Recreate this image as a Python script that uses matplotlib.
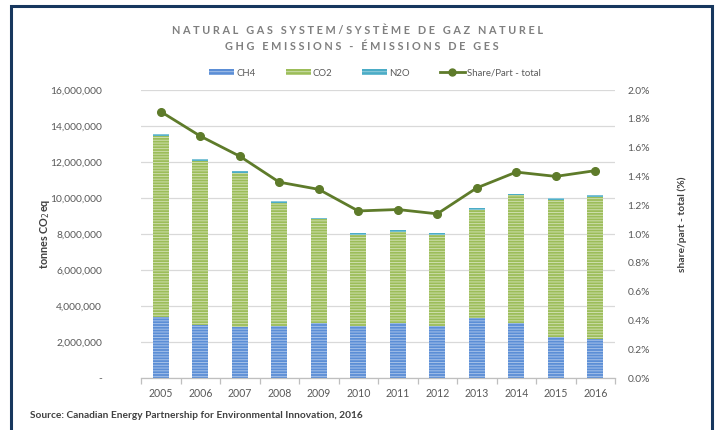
import matplotlib
matplotlib.use("Agg")
import matplotlib.pyplot as plt
from matplotlib.patches import Rectangle
from matplotlib.lines import Line2D
from matplotlib.ticker import FixedLocator, FuncFormatter
import numpy as np

plt.rcParams['font.family'] = ['Lato', 'DejaVu Sans']
plt.rcParams['hatch.linewidth'] = 0.7

years = ['2005', '2006', '2007', '2008', '2009', '2010', '2011', '2012', '2013', '2014', '2015', '2016']
ch4 = [3400000, 2940000, 2820000, 2890000, 3040000, 2890000, 3070000, 2900000, 3350000, 3070000, 2280000, 2150000]
totals = [13560000, 12140000, 11480000, 9830000, 8900000, 8050000, 8200000, 8050000, 9440000, 10240000, 10000000, 10150000]
n2o = [130000, 110000, 110000, 100000, 90000, 80000, 80000, 80000, 90000, 100000, 90000, 100000]
co2 = [t - c - n for t, c, n in zip(totals, ch4, n2o)]
share = [1.85, 1.68, 1.54, 1.36, 1.31, 1.16, 1.17, 1.14, 1.32, 1.43, 1.40, 1.44]

c_ch4 = '#5B8ED6'
c_co2 = '#9CBD59'
c_n2o = '#4BACC6'
c_line = '#5E7B2A'
txt = '#595959'

fig = plt.figure(figsize=(7.15, 4.3), dpi=100)
ax = fig.add_axes([141/715, 1-378/430, (615-141)/715, (378-90)/430])

x = np.arange(len(years))
w = 0.41
hatch = '------'
ax.bar(x, ch4, w, color=c_ch4, edgecolor=(1, 1, 1, 0.45), linewidth=0, hatch=hatch, zorder=2)
ax.bar(x, co2, w, bottom=ch4, color=c_co2, edgecolor=(1, 1, 1, 0.5), linewidth=0, hatch=hatch, zorder=2)
bot2 = [a + b for a, b in zip(ch4, co2)]
ax.bar(x, n2o, w, bottom=bot2, color=c_n2o, edgecolor=(1, 1, 1, 0.4), linewidth=0, hatch=hatch, zorder=2)

ax.set_xlim(-0.5, len(years) - 0.5)
ax.set_ylim(0, 16000000)
ax.yaxis.set_major_locator(FixedLocator(np.arange(0, 16000001, 2000000)))
ax.yaxis.set_major_formatter(FuncFormatter(lambda v, p: '-' if v == 0 else f'{int(v):,}'))
ax.grid(axis='y', color='#D9D9D9', linewidth=0.9, zorder=0)
ax.set_axisbelow(True)
for s in ['left', 'right', 'top']:
    ax.spines[s].set_visible(False)
ax.spines['bottom'].set_color('#BFBFBF')
ax.spines['bottom'].set_linewidth(0.9)
ax.tick_params(axis='y', length=0, labelsize=7.4, labelcolor=txt, pad=28)
ax.set_xticks(x)
ax.set_xticklabels(years)
ax.tick_params(axis='x', length=0, labelsize=7.6, labelcolor=txt, pad=7)
ax.set_xticks(np.arange(-0.5, len(years), 1), minor=True)
ax.tick_params(axis='x', which='minor', length=4, color='#BFBFBF', width=0.9)

ax2 = ax.twinx()
ax2.plot(x, share, color=c_line, linewidth=2.0, marker='o', markersize=5.5, zorder=5)
ax2.set_ylim(0, 2.0)
ax2.yaxis.set_major_locator(FixedLocator(np.arange(0, 2.01, 0.2)))
ax2.yaxis.set_major_formatter(FuncFormatter(lambda v, p: f'{v:.1f}%'))
for s in ['left', 'right', 'top', 'bottom']:
    ax2.spines[s].set_visible(False)
ax2.tick_params(axis='y', length=0, labelsize=7.4, labelcolor=txt, pad=9)

fig.text(45/715, 1-234/430, 'tonnes CO$_2$eq', rotation=90, ha='center', va='center',
         fontsize=7.8, fontweight='bold', color='#404040')
fig.text(682/715, 1-224/430, 'share/part - total (%)', rotation=90, ha='center', va='center',
         fontsize=7.4, fontweight='bold', color='#404040')

fig.text(358/715, 1-30/430, 'N A T U R A L   G A S   S Y S T E M / S Y S T È M E   D E   G A Z   N A T U R E L',
         ha='center', va='center', fontsize=7.8, fontweight='bold', color='#7F7F7F')
fig.text(362/715, 1-47/430, 'G H G   E M I S S I O N S   -   É M I S S I O N S   D E   G E S',
         ha='center', va='center', fontsize=7.8, fontweight='bold', color='#7F7F7F')

handles = [Rectangle((0, 0), 1, 1, facecolor=c_ch4, edgecolor=(1, 1, 1, 0.45), hatch='-----', linewidth=0),
           Rectangle((0, 0), 1, 1, facecolor=c_co2, edgecolor=(1, 1, 1, 0.5), hatch='-----', linewidth=0),
           Rectangle((0, 0), 1, 1, facecolor=c_n2o, edgecolor=(1, 1, 1, 0.4), hatch='-----', linewidth=0),
           Line2D([0], [0], color=c_line, linewidth=2.0, marker='o', markersize=5)]
labels = ['CH4', 'CO2', 'N2O', 'Share/Part - total']
leg = fig.legend(handles, labels, loc='center', bbox_to_anchor=(375/715, 1-73/430), ncol=4, frameon=False,
                 fontsize=6.9, handlelength=2.6, handleheight=0.6, handletextpad=0.2, columnspacing=3.15,
                 labelcolor=txt)

fig.text(30/715, 1-415/430, 'Source: Canadian Energy Partnership for Environmental Innovation, 2016',
         ha='left', va='center', fontsize=7.3, fontweight='bold', color='#404040')

border = Rectangle((11/715, -0.05), (712-11)/715, (1-6/430) + 0.05, transform=fig.transFigure,
                   fill=False, edgecolor='#17375E', linewidth=2.2)
fig.patches.append(border)

fig.savefig('out.png', dpi=100)
